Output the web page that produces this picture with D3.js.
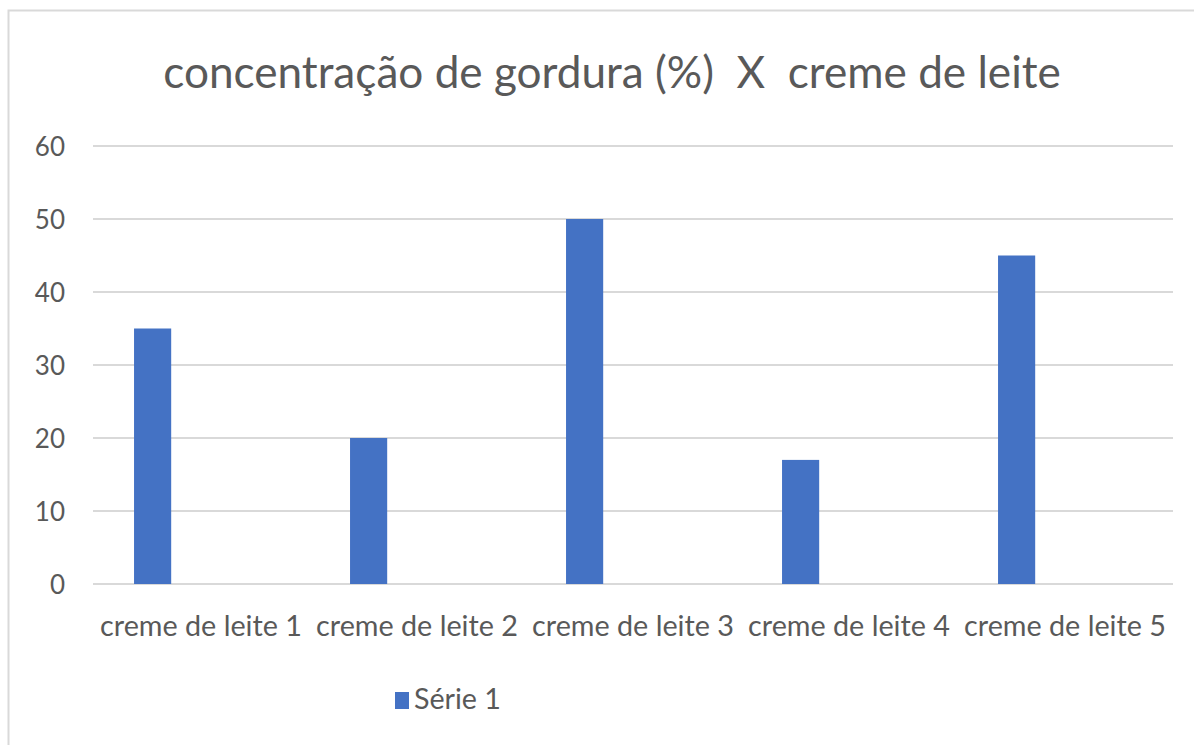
<!DOCTYPE html>
<html>
<head>
<meta charset="utf-8">
<script src="https://cdn.jsdelivr.net/npm/d3@7/dist/d3.min.js"></script>
<style>
  html, body { margin: 0; padding: 0; background: #fff; }
  svg { display: block; }
  text { font-family: Lato, "Open Sans", sans-serif; fill: #595959; white-space: pre; }
</style>
</head>
<body>
<svg id="chart" width="1194" height="745"></svg>
<script>
const title = "concentração de gordura (%)  X  creme de leite";
const categories = ["creme de leite 1", "creme de leite 2", "creme de leite 3", "creme de leite 4", "creme de leite 5"];
const seriesName = "Série 1";
const values = [35, 20, 50, 17, 45];
const yTicks = [0, 10, 20, 30, 40, 50, 60];

const svg = d3.select("#chart");
const W = 1194, H = 745;
const margin = { left: 93, right: 21, top: 146, bottom: 161 };

// chart frame (top and left edges visible)
svg.append("path").attr("d", "M8.5,745 V10.5 H1194")
  .attr("fill", "none").attr("stroke", "#d9d9d9").attr("stroke-width", 2);

const x = d3.scaleBand().domain(categories).range([margin.left, W - margin.right]).padding(0);
const y = d3.scaleLinear().domain([0, 60]).range([H - margin.bottom, margin.top]);

// gridlines
svg.append("g").selectAll("line").data(yTicks).join("line")
  .attr("x1", margin.left).attr("x2", W - margin.right)
  .attr("y1", d => y(d)).attr("y2", d => y(d))
  .attr("stroke", "#d9d9d9").attr("stroke-width", 2);

// y axis labels
const yAxis = d3.axisLeft(y).tickValues(yTicks).tickSize(0).tickPadding(0);
const gy = svg.append("g").attr("transform", `translate(${margin.left - 28},0)`).call(yAxis);
gy.select(".domain").remove();
gy.selectAll("text").style("font-size", "26px").attr("fill", "#595959").attr("dy", "0.36em");

// bars
svg.append("g").selectAll("rect").data(values).join("rect")
  .attr("x", (d, i) => x(categories[i]) + x.bandwidth() * 0.19)
  .attr("width", x.bandwidth() * 0.172)
  .attr("y", d => y(d))
  .attr("height", d => y(0) - y(d))
  .attr("fill", "#4472c4");

// x axis labels
const xAxis = d3.axisBottom(x).tickSize(0).tickPadding(0);
const gx = svg.append("g").attr("transform", `translate(0,${y(0) + 52})`).call(xAxis);
gx.select(".domain").remove();
gx.selectAll("text").style("font-size", "26px").attr("fill", "#595959").attr("dy", "0");

// fit helper
function fitWidth(sel, target) {
  const node = sel.node();
  const fs = parseFloat(sel.style("font-size"));
  const w = node.getComputedTextLength();
  if (w > 0) sel.style("font-size", (fs * target / w) + "px");
}
gx.selectAll("text").each(function () { fitWidth(d3.select(this), 202); });

// title
const t = svg.append("text").attr("x", 612).attr("y", 88).attr("text-anchor", "middle")
  .style("font-size", "44px").text(title);
fitWidth(t, 898);

// legend
const lg = svg.append("g").attr("transform", "translate(395,692)");
lg.append("rect").attr("width", 14).attr("height", 17).attr("fill", "#4472c4");
const lt = lg.append("text").attr("x", 19).attr("y", 17).style("font-size", "26px").text(seriesName);
fitWidth(lt, 87);
</script>
</body>
</html>
